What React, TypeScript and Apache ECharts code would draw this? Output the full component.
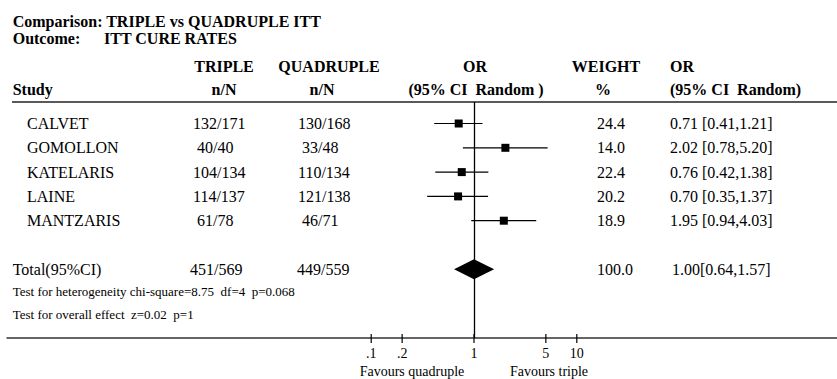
import React, { useEffect, useRef } from 'react';
import * as echarts from 'echarts';

// ---------- data ----------
const studies = ['CALVET', 'GOMOLLON', 'KATELARIS', 'LAINE', 'MANTZARIS'];
const tripleEvents = [132, 40, 104, 114, 61];
const tripleTotals = [171, 40, 134, 137, 78];
const quadEvents = [130, 33, 110, 121, 46];
const quadTotals = [168, 48, 134, 138, 71];
const weights = [24.4, 14.0, 22.4, 20.2, 18.9];
const oddsRatios = [0.71, 2.02, 0.76, 0.7, 1.95];
const ciLow = [0.41, 0.78, 0.42, 0.35, 0.94];
const ciHigh = [1.21, 5.2, 1.38, 1.37, 4.03];

const totalLabel = 'Total(95%CI)';
const totalTriple = [451, 569];
const totalQuad = [449, 559];
const totalWeight = 100.0;
const totalOR = 1.0;
const totalLow = 0.64;
const totalHigh = 1.57;

const heterogeneityText = 'Test for heterogeneity chi-square=8.75  df=4  p=0.068';
const overallText = 'Test for overall effect  z=0.02  p=1';
const tickValues = [0.1, 0.2, 1, 5, 10];
const tickLabels = ['.1', '.2', '1', '5', '10'];

// ---------- layout ----------
const W = 837;
const H = 379;
const GRID_LEFT = 7;
const GRID_TOP = 102;
const AXIS_Y = 338;
const ROW0_Y = 123.5;
const ROW_STEP = 24.3;
const PX_ONE = 474;
const PPD = 102.8;
const TOTAL_ROW = 6;

const SERIF = '"Liberation Serif", "Times New Roman", serif';
const BODY = `16px ${SERIF}`;
const BOLD = `bold 16px ${SERIF}`;
const TITLE = `bold 16px ${SERIF}`;
const SMALL = `13px ${SERIF}`;
const TICK = `14px ${SERIF}`;

const fmtNN = (n: number, N: number) => (n < 100 ? ' ' : '') + `${n}/${N}`;
const fmtOR = (o: number, l: number, h: number, sep: string) =>
  `${o.toFixed(2)}${sep}[${l.toFixed(2)},${h.toFixed(2)}]`;

const txt = (x: number, y: number, text: string, font: string, align = 'left') => ({
  type: 'text',
  x,
  y,
  silent: true,
  style: { text, font, fill: '#000', textAlign: align, textVerticalAlign: 'middle' },
});

export default function App() {
  const ref = useRef<HTMLDivElement>(null);

  useEffect(() => {
    document.body.style.margin = '0';
    if (!ref.current) return;
    const chart = echarts.init(ref.current, undefined, { renderer: 'svg' });

    const yMin = (GRID_TOP - ROW0_Y) / ROW_STEP;
    const yMax = (AXIS_Y - ROW0_Y) / ROW_STEP;
    const xMin = Math.pow(10, -(PX_ONE - GRID_LEFT) / PPD);
    const xMax = Math.pow(10, (W - PX_ONE) / PPD);

    // table text items
    type T = { x: number; y: number; text: string; font: string };
    const texts: T[] = [];
    studies.forEach((s, i) => {
      texts.push({ x: 27, y: i, text: s, font: BODY });
      texts.push({ x: 193, y: i, text: fmtNN(tripleEvents[i], tripleTotals[i]), font: BODY });
      texts.push({ x: 298, y: i, text: fmtNN(quadEvents[i], quadTotals[i]), font: BODY });
      texts.push({ x: 597, y: i, text: weights[i].toFixed(1), font: BODY });
      texts.push({ x: 670, y: i, text: fmtOR(oddsRatios[i], ciLow[i], ciHigh[i], ' '), font: BODY });
    });
    texts.push({ x: 12.7, y: TOTAL_ROW, text: totalLabel, font: BODY });
    texts.push({ x: 190, y: TOTAL_ROW, text: fmtNN(totalTriple[0], totalTriple[1]), font: BODY });
    texts.push({ x: 297, y: TOTAL_ROW, text: fmtNN(totalQuad[0], totalQuad[1]), font: BODY });
    texts.push({ x: 597, y: TOTAL_ROW, text: totalWeight.toFixed(1), font: BODY });
    texts.push({ x: 672, y: TOTAL_ROW, text: fmtOR(totalOR, totalLow, totalHigh, ''), font: BODY });

    const forestData = studies.map((_, i) => [oddsRatios[i], ciLow[i], ciHigh[i], i]);

    const option: any = {
      animation: false,
      grid: { left: GRID_LEFT, right: 0, top: GRID_TOP, bottom: H - AXIS_Y, containLabel: false },
      xAxis: [
        {
          type: 'log',
          min: xMin,
          max: xMax,
          position: 'bottom',
          axisLine: { show: true, onZero: false, lineStyle: { color: '#333', width: 1.5 } },
          axisTick: { show: false },
          axisLabel: { show: false },
          splitLine: { show: false },
        },
        {
          type: 'value',
          min: GRID_LEFT,
          max: W,
          show: false,
        },
      ],
      yAxis: {
        type: 'value',
        inverse: true,
        min: yMin,
        max: yMax,
        show: false,
      },
      graphic: [
        txt(12.7, 21, 'Comparison: TRIPLE vs QUADRUPLE ITT', TITLE),
        txt(12.7, 38, 'Outcome:', TITLE),
        txt(104, 38, 'ITT CURE RATES', TITLE),
        txt(224, 66, 'TRIPLE', BOLD, 'center'),
        txt(329, 66, 'QUADRUPLE', BOLD, 'center'),
        txt(475, 66, 'OR', BOLD, 'center'),
        txt(606, 66, 'WEIGHT', BOLD, 'center'),
        txt(670, 66, 'OR', BOLD),
        txt(12.7, 89, 'Study', BOLD),
        txt(224, 89, 'n/N', BOLD, 'center'),
        txt(322, 89, 'n/N', BOLD, 'center'),
        txt(476, 89, '(95% CI  Random )', BOLD, 'center'),
        txt(603, 89, '%', BOLD, 'center'),
        txt(670, 89, '(95% CI  Random)', BOLD),
        { type: 'line', silent: true, shape: { x1: 12, y1: GRID_TOP, x2: W, y2: GRID_TOP }, style: { stroke: '#222', lineWidth: 1.5 } },
        txt(12.7, 291, heterogeneityText, SMALL),
        txt(12.7, 314, overallText, SMALL),
        txt(412, 371, 'Favours quadruple', TICK, 'center'),
        txt(549, 371, 'Favours triple', TICK, 'center'),
      ],
      series: [
        {
          type: 'custom',
          name: 'forest',
          xAxisIndex: 0,
          yAxisIndex: 0,
          silent: true,
          clip: false,
          encode: { x: [0, 1, 2], y: 3 },
          data: forestData,
          renderItem: (params: any, api: any) => {
            const y = api.value(3);
            const c = api.coord([api.value(0), y]);
            const l = api.coord([api.value(1), y]);
            const h = api.coord([api.value(2), y]);
            const s = 8;
            return {
              type: 'group',
              children: [
                { type: 'line', shape: { x1: l[0], y1: l[1], x2: h[0], y2: h[1] }, style: { stroke: '#000', lineWidth: 1.2 } },
                { type: 'rect', shape: { x: c[0] - s / 2, y: c[1] - s / 2, width: s, height: s }, style: { fill: '#000' } },
              ],
            };
          },
          markLine: {
            silent: true,
            symbol: 'none',
            label: { show: false },
            lineStyle: { color: '#000', width: 1.3, type: 'solid' },
            data: [{ xAxis: 1 }],
          },
        },
        {
          type: 'custom',
          name: 'total',
          xAxisIndex: 0,
          yAxisIndex: 0,
          silent: true,
          clip: false,
          encode: { x: [0, 1, 2], y: 3 },
          data: [[totalOR, totalLow, totalHigh, TOTAL_ROW]],
          renderItem: (params: any, api: any) => {
            const y = api.value(3);
            const c = api.coord([api.value(0), y]);
            const l = api.coord([api.value(1), y]);
            const h = api.coord([api.value(2), y]);
            const hh = 10;
            return {
              type: 'polygon',
              shape: { points: [[l[0], c[1]], [c[0], c[1] - hh], [h[0], c[1]], [c[0], c[1] + hh]] },
              style: { fill: '#000' },
            };
          },
        },
        {
          type: 'custom',
          name: 'ticks',
          xAxisIndex: 0,
          yAxisIndex: 0,
          silent: true,
          clip: false,
          encode: { x: 0, y: 1 },
          data: tickValues.map((v) => [v, yMax]),
          renderItem: (params: any, api: any) => {
            const p = api.coord([api.value(0), api.value(1)]);
            return {
              type: 'group',
              children: [
                { type: 'line', shape: { x1: p[0], y1: p[1] - 4, x2: p[0], y2: p[1] + 5 }, style: { stroke: '#000', lineWidth: 1.2 } },
                {
                  type: 'text',
                  x: p[0],
                  y: p[1] + 15,
                  style: { text: tickLabels[params.dataIndex], font: TICK, fill: '#000', textAlign: 'center', textVerticalAlign: 'middle', align: 'center', verticalAlign: 'middle' },
                },
              ],
            };
          },
        },
        {
          type: 'custom',
          name: 'table',
          xAxisIndex: 1,
          yAxisIndex: 0,
          silent: true,
          clip: false,
          encode: { x: 0, y: 1 },
          data: texts.map((t) => [t.x, t.y]),
          renderItem: (params: any, api: any) => {
            const t = texts[params.dataIndex];
            const p = api.coord([api.value(0), api.value(1)]);
            return {
              type: 'text',
              x: p[0],
              y: p[1],
              style: { text: t.text, font: t.font, fill: '#000', textAlign: 'left', textVerticalAlign: 'middle', align: 'left', verticalAlign: 'middle' },
            };
          },
        },
      ],
    };

    chart.setOption(option);
    return () => chart.dispose();
  }, []);

  return <div ref={ref} style={{ width: W, height: H }} />;
}
